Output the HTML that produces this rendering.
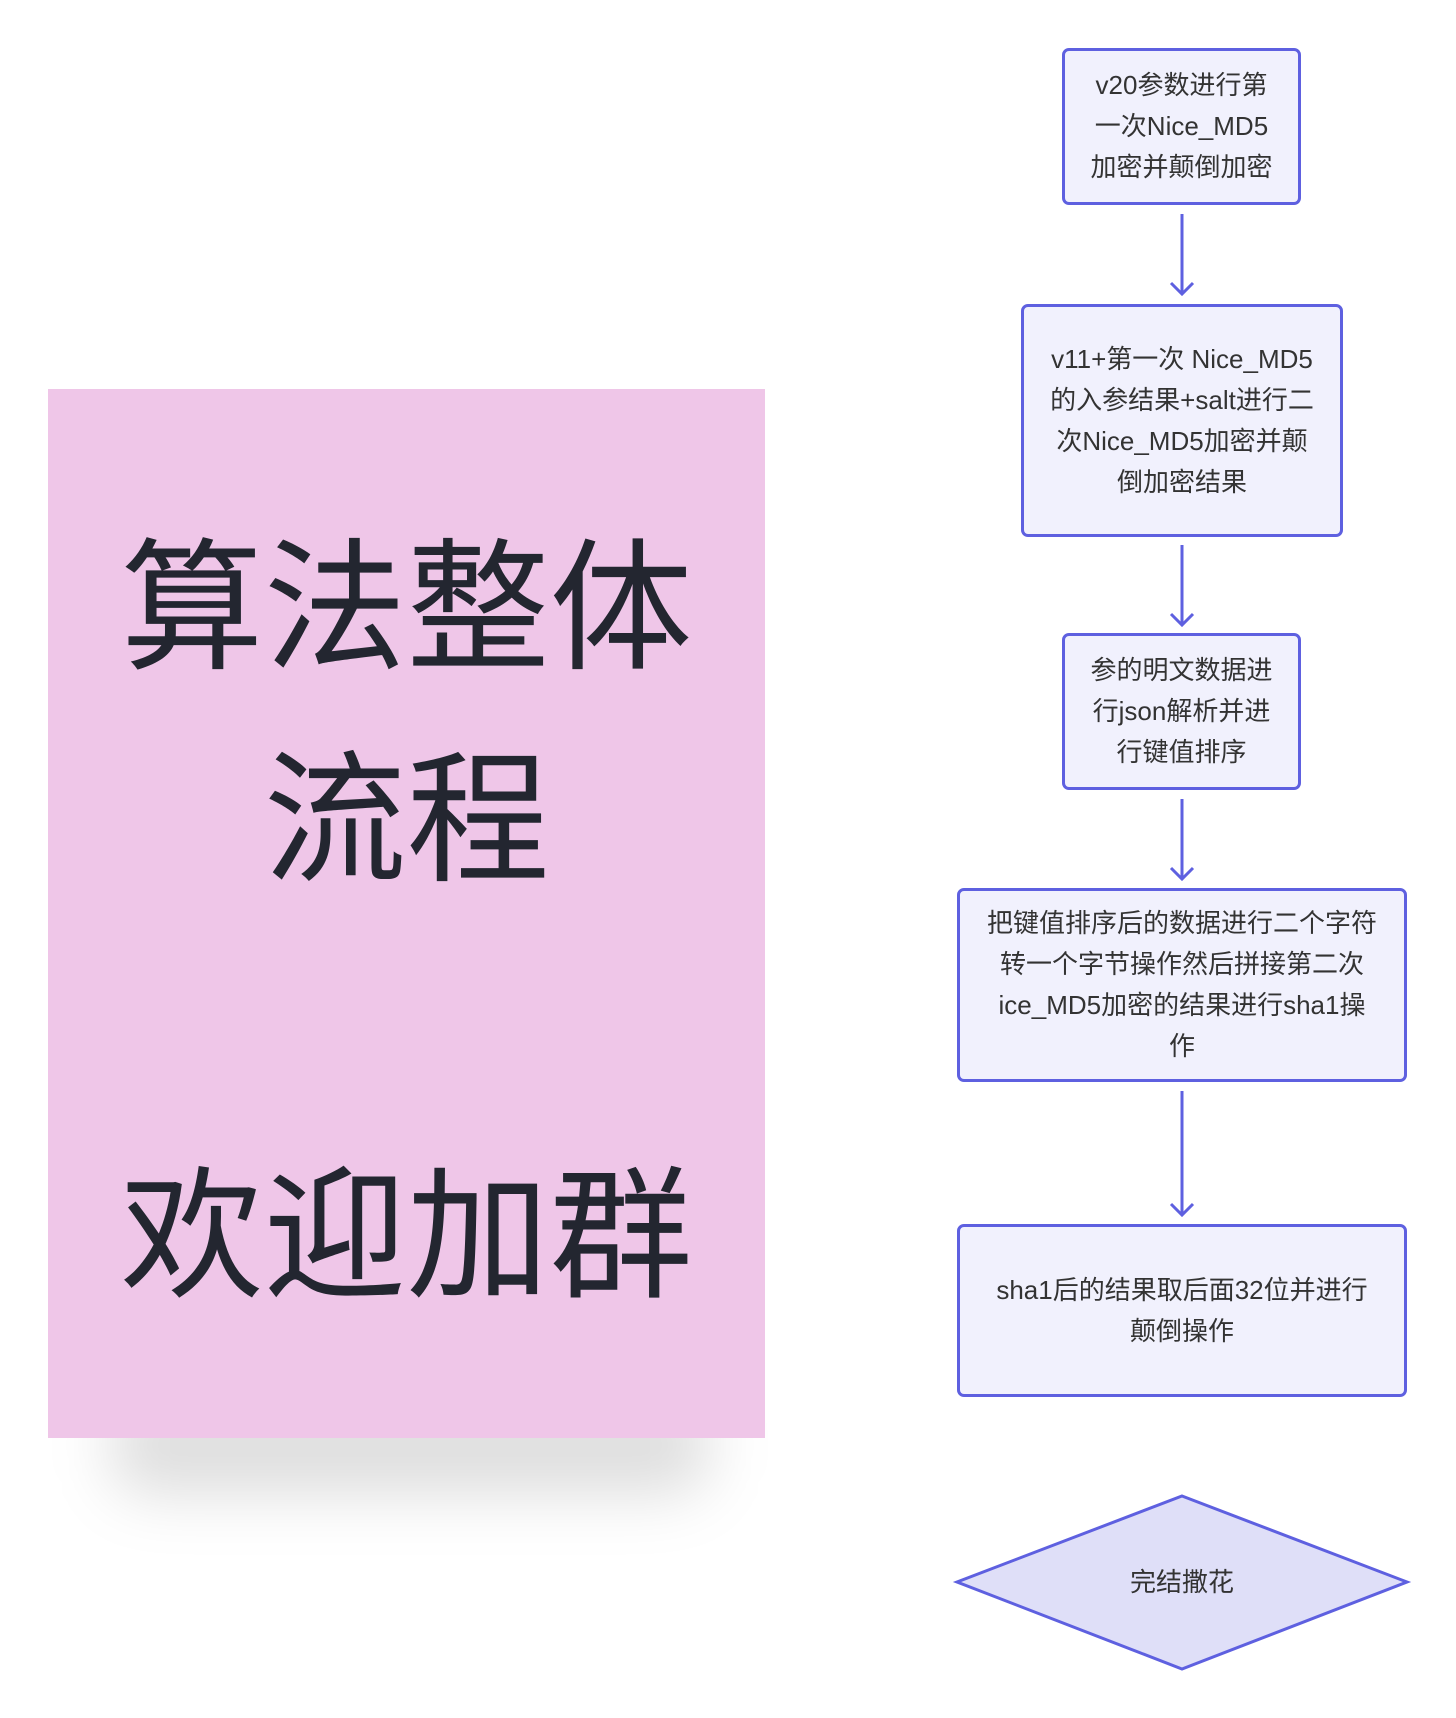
<!DOCTYPE html>
<html><head><meta charset="utf-8"><style>
body{margin:0;width:1456px;height:1718px;background:#fff;position:relative;overflow:hidden;font-family:"Liberation Sans","Noto Sans CJK SC",sans-serif;}
.shadow{position:absolute;left:110px;top:1395px;width:600px;height:100px;background:rgba(0,0,0,0.13);filter:blur(30px);border-radius:40px;}
.note{position:absolute;left:48px;top:389px;width:717px;height:1049px;background:#efc6e8;}
.big{position:absolute;left:48px;width:717px;text-align:center;font-size:143px;color:#232630;line-height:1;}
.box{position:absolute;box-sizing:border-box;border:3px solid #5e60e0;border-radius:7px;background:#f1f1fd;display:flex;align-items:center;justify-content:center;text-align:center;font-size:26px;line-height:41px;color:#333;}
</style></head><body>
<div class="shadow"></div>
<div class="note"></div>
<div class="big" style="top:538px">算法整体</div>
<div class="big" style="top:750px">流程</div>
<div class="big" style="top:1166px">欢迎加群</div>
<div class="box" style="left:1062px;top:48px;width:239px;height:157px">v20参数进行第<br>一次Nice_MD5<br>加密并颠倒加密</div>
<div class="box" style="left:1021px;top:304px;width:322px;height:233px">v11+第一次 Nice_MD5<br>的入参结果+salt进行二<br>次Nice_MD5加密并颠<br>倒加密结果</div>
<div class="box" style="left:1062px;top:633px;width:239px;height:157px">参的明文数据进<br>行json解析并进<br>行键值排序</div>
<div class="box" style="left:957px;top:888px;width:450px;height:194px">把键值排序后的数据进行二个字符<br>转一个字节操作然后拼接第二次<br>ice_MD5加密的结果进行sha1操<br>作</div>
<div class="box" style="left:957px;top:1224px;width:450px;height:173px">sha1后的结果取后面32位并进行<br>颠倒操作</div>
<svg style="position:absolute;left:0;top:0" width="1456" height="1718">
<g stroke="#5e60e0" stroke-width="3" fill="none">
<line x1="1182" y1="214" x2="1182" y2="294"/><polyline points="1171,283 1182,294 1193,283"/>
<line x1="1182" y1="545" x2="1182" y2="625"/><polyline points="1171,614 1182,625 1193,614"/>
<line x1="1182" y1="799" x2="1182" y2="879"/><polyline points="1171,868 1182,879 1193,868"/>
<line x1="1182" y1="1091" x2="1182" y2="1215"/><polyline points="1171,1204 1182,1215 1193,1204"/>
<polygon points="1182,1496 1407,1582 1182,1669 957,1582" fill="#dfdff8"/>
</g>
<text x="1182" y="1591" text-anchor="middle" font-size="26" fill="#333" font-family="Liberation Sans, Noto Sans CJK SC, sans-serif">完结撒花</text>
</svg>
</body></html>
